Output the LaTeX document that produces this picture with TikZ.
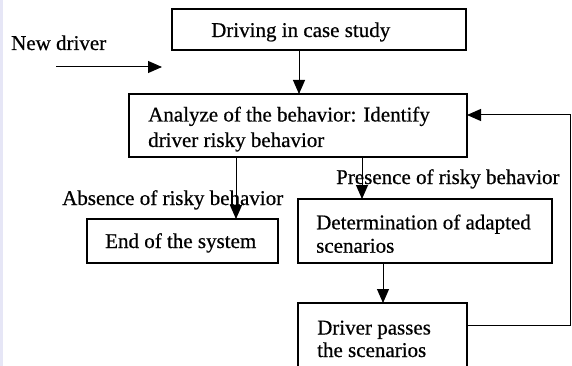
\documentclass[tikz,border=0pt]{standalone}
\usepackage{fontspec}
\setmainfont{Liberation Serif}[FakeBold=0.6]
\usetikzlibrary{arrows.meta,calc}
\definecolor{strip}{RGB}{230,230,246}
\tikzset{
  box/.style={draw=black, line width=2pt, inner sep=0pt, outer sep=0pt, fill=white},
  arr/.style={draw=black, line width=1pt, -{Triangle[width=12pt,length=14pt]}},
  lbl/.style={anchor=base west, inner sep=0pt, font=\fontsize{21}{26}\selectfont}
}
\begin{document}
\begin{tikzpicture}[x=1pt,y=-1pt]
\useasboundingbox (0,0) rectangle (572,366);
\clip (0,0) rectangle (572,366);
\fill[white] (0,0) rectangle (572,366);
\fill[strip] (0,0) rectangle (3,366);

% boxes
\node[box, minimum width=294pt, minimum height=41pt] (b1) at (319,29.5) {};
\node[box, minimum width=338pt, minimum height=63pt] (b2) at (298,125.5) {};
\node[box, minimum width=191pt, minimum height=44pt] (bend) at (182.5,241) {};
\node[box, minimum width=254pt, minimum height=64pt] (b3) at (425,231) {};
\node[box, minimum width=169pt, minimum height=72pt] (b4) at (382.5,339) {};

% texts
\node[lbl] (t1) at (211,37) {Driving in case study};
\node[lbl] (tnew) at (11,50) {New driver};
\node[lbl] (t2a) at (148,121.5) {Analyze of the behavior: Identify};
\node[lbl] (t2b) at (148,147) {driver risky behavior};
\node[lbl] (tabs) at (62,205) {Absence of risky behavior};
\node[lbl] (tend) at (105,248) {End of the system};
\node[lbl] (tpres) at (336,184) {Presence of risky behavior};
\node[lbl] (t3a) at (316,229.3) {Determination of adapted};
\node[lbl] (t3b) at (316,252.7) {scenarios};
\node[lbl] (t4a) at (317,334.5) {Driver passes};
\node[lbl] (t4b) at (317,357) {the scenarios};

% connectors
\coordinate (nd1) at (56,67);
\coordinate (nd2) at (162,67);
\draw[arr] (nd1) -- (nd2);
\draw[arr] ([xshift=-20pt]b1.south) -- ([xshift=-20pt]b1.south |- b2.north);
\draw[arr] ([xshift=-62pt]b2.south) -- ([xshift=-62pt]b2.south |- bend.north);
\draw[arr] ([xshift=64pt]b2.south) -- ([xshift=64pt]b2.south |- b3.north);
\draw[arr] ([xshift=-42pt]b3.south) -- ([xshift=-42pt]b3.south |- b4.north);
\coordinate (fb1) at (570.5,325);
\coordinate (fb2) at (570.5,115);
\draw[arr] ([yshift=14pt]b4.east) -- (fb1) -- (fb2) -- ([yshift=10.5pt]b2.east);
\end{tikzpicture}
\end{document}
